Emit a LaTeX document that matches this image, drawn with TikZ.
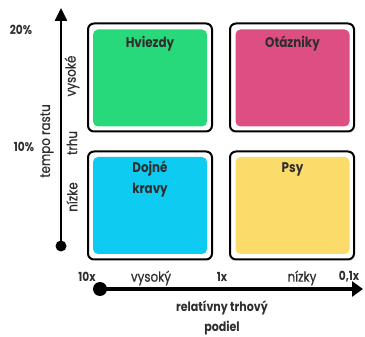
\documentclass[tikz,border=0pt]{standalone}
\usepackage{fontspec}
\setmainfont{Poppins}[FakeStretch=0.85]
\newfontfamily\medfont{Poppins}[FakeStretch=0.85,FakeBold=0.6]
\usetikzlibrary{arrows.meta}
\definecolor{txt}{HTML}{2E2E2E}
\definecolor{cgreen}{HTML}{28D97C}
\definecolor{cpink}{HTML}{DD4E83}
\definecolor{ccyan}{HTML}{0DCBF1}
\definecolor{cyellow}{HTML}{FBDB6A}
\begin{document}
\begin{tikzpicture}[x=1pt,y=-1pt,
  outerbox/.style={draw=black,line width=2pt,rounded corners=6pt,fill=white,minimum width=124pt,minimum height=108pt,inner sep=0pt},
  innerbox/.style={rounded corners=5pt,minimum width=114pt,minimum height=97pt,inner sep=0pt},
  boxlabel/.style={text=txt,font=\fontsize{14}{21}\selectfont\bfseries,align=center,inner sep=0pt},
  axlabel/.style={text=txt,font=\fontsize{14}{16}\selectfont\medfont,inner sep=0pt},
  ticklabel/.style={text=txt,font=\fontsize{12.5}{14}\selectfont\bfseries,inner sep=0pt},
  dotnode/.style={circle,fill=black,inner sep=0pt}]
\useasboundingbox (0,0) rectangle (365,337);
% boxes
\node[outerbox] (otl) at (150,77.5) {};
\node[outerbox] (otr) at (292,77.5) {};
\node[outerbox] (obl) at (150,205.5) {};
\node[outerbox] (obr) at (292,205.5) {};
\node[innerbox,fill=cgreen] (itl) at (150,78) {};
\node[innerbox,fill=cpink] (itr) at (292.5,78) {};
\node[innerbox,fill=ccyan] (ibl) at (150,205.5) {};
\node[innerbox,fill=cyellow] (ibr) at (292.5,205.5) {};
\node[boxlabel] (ltl) at (150,44) {Hviezdy};
\node[boxlabel] (ltr) at (292.5,44) {Otázniky};
\node[boxlabel] (lbl) at (150,179.5) {Dojné\\kravy};
\node[boxlabel] (lbr) at (292.5,169) {Psy};
% vertical axis
\node[dotnode,minimum size=11pt] (vdot) at (61,246) {};
\coordinate (vtop) at (61,8);
\draw[line width=2.5pt,-{Triangle[width=12pt,length=13pt]}] (vdot.center) -- (vtop);
% horizontal axis
\node[dotnode,minimum size=14pt] (hdot) at (100,289) {};
\coordinate (hend) at (363,289);
\draw[line width=4pt,-{Triangle[width=15pt,length=11pt]}] (hdot.center) -- (hend);
% y labels
\node[ticklabel] (y20) at (21,30) {20\%};
\node[ticklabel] (y10) at (24,147) {10\%};
\node[axlabel,rotate=90] (vys) at (72,76) {vysoké};
\node[axlabel,rotate=90] (trhu) at (72,143) {trhu};
\node[axlabel,rotate=90] (niz) at (72,197) {nízke};
\node[axlabel,rotate=90] (tempo) at (47,141) {tempo rastu};
% x labels
\node[ticklabel] (x10) at (87,277) {10x};
\node[axlabel] (xvys) at (151,278) {vysoký};
\node[ticklabel] (x1) at (222,277) {1x};
\node[axlabel] (xniz) at (302,278) {nízky};
\node[ticklabel] (x01) at (349,277) {0,1x};
\node[axlabel,font=\fontsize{13}{20}\selectfont\bfseries,align=center] (rel) at (222,318) {relatívny trhový\\podiel};
\end{tikzpicture}
\end{document}
